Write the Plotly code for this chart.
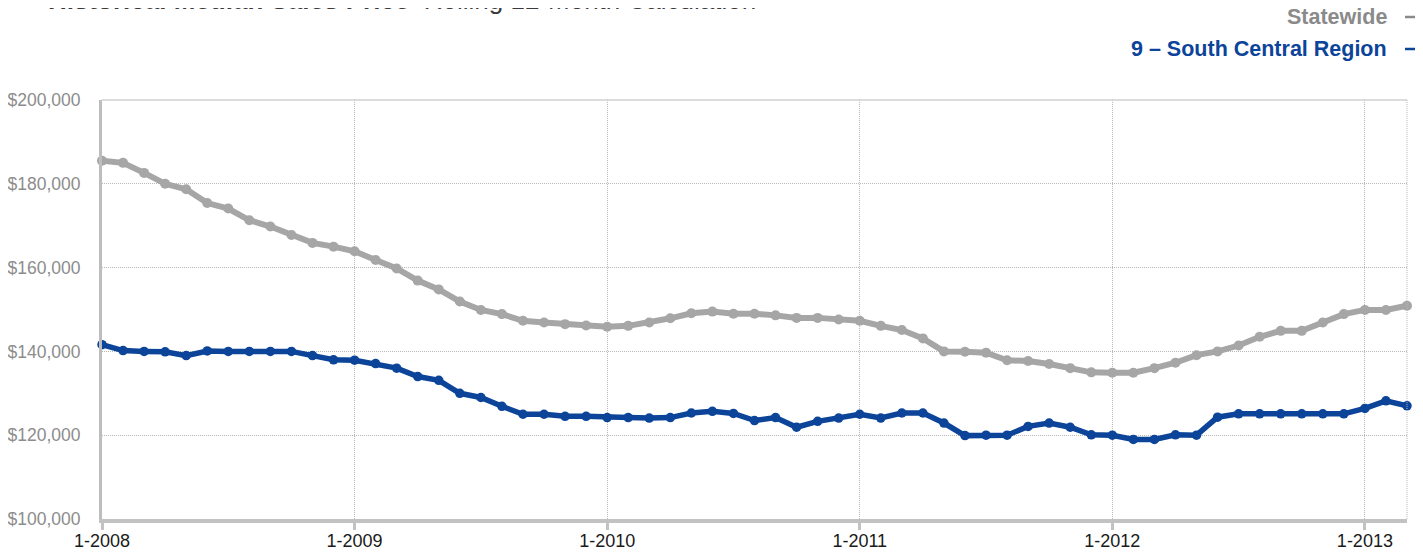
import plotly.graph_objects as go

# ---- data ----
years = [2008, 2009, 2010, 2011, 2012, 2013]
months = [f"{m}-{y}" for y in years for m in range(1, 13)][:63]  # 1-2008 .. 3-2013

statewide = [
    185.5, 185.0, 182.6, 180.0, 178.7, 175.4, 174.1, 171.3, 169.8, 167.8, 165.9, 165.0,
    163.9, 161.8, 159.8, 156.9, 154.8, 151.9, 149.9, 148.9, 147.3, 146.9, 146.5, 146.2,
    145.9, 146.1, 146.9, 147.9, 149.1, 149.5, 149.0, 149.0, 148.6, 148.0, 148.0, 147.6,
    147.3, 146.1, 145.1, 143.1, 140.0, 139.9, 139.7, 137.9, 137.7, 137.0, 136.0, 135.0,
    134.9, 134.9, 136.0, 137.3, 139.1, 140.0, 141.4, 143.5, 144.9, 144.9, 146.9, 148.9,
    149.9, 149.9, 150.9,
]
south_central = [
    141.6, 140.2, 140.0, 139.9, 139.0, 140.1, 140.0, 140.0, 140.0, 140.0, 139.0, 138.0,
    137.9, 137.1, 136.0, 134.0, 133.1, 130.0, 129.0, 126.9, 125.0, 125.0, 124.5, 124.5,
    124.2, 124.2, 124.1, 124.2, 125.3, 125.7, 125.2, 123.5, 124.2, 121.9, 123.3, 124.1,
    125.0, 124.1, 125.3, 125.3, 122.9, 119.9, 120.0, 120.0, 122.1, 122.9, 121.9, 120.1,
    120.0, 119.0, 119.0, 120.1, 120.0, 124.3, 125.1, 125.1, 125.1, 125.1, 125.1, 125.1,
    126.4, 128.2, 127.0,
]
series_names = ["Statewide", "9 \u2013 South Central Region"]
x_tick_labels = ["1-2008", "1-2009", "1-2010", "1-2011", "1-2012", "1-2013"]
y_tick_vals = [100000, 120000, 140000, 160000, 180000, 200000]
y_tick_labels = ["$100,000", "$120,000", "$140,000", "$160,000", "$180,000", "$200,000"]
title_bold = "Historical Median Sales Price"
title_light = "Rolling 12-Month Calculation"

GREY = "#A6A6A6"
BLUE = "#0B4499"
FONT = "Liberation Sans, Arial, sans-serif"

# page has an 8px body margin, so the figure is sized/placed to compensate
W, H = 1415, 544
L, R, T, B = 94, 16, 92, 33
pw, ph = W - L - R, H - T - B

def px_x(p):
    return (p - L) / pw

def px_y(p):
    return 1 - (p - T) / ph

fig = go.Figure()
fig.add_trace(go.Scatter(
    x=months, y=[v * 1000 for v in statewide], name=series_names[0],
    mode="lines+markers", line=dict(color=GREY, width=6),
    marker=dict(color=GREY, size=10), cliponaxis=False, showlegend=False,
))
fig.add_trace(go.Scatter(
    x=months, y=[v * 1000 for v in south_central], name=series_names[1],
    mode="lines+markers", line=dict(color=BLUE, width=5.5),
    marker=dict(color=BLUE, size=9.5), cliponaxis=False, showlegend=False,
))

GRID = "#B8B8B8"
fig.update_layout(
    width=W, height=H,
    margin=dict(l=L, r=R, t=T, b=B, pad=0, autoexpand=False),
    paper_bgcolor="white", plot_bgcolor="white",
    font=dict(family=FONT),
    xaxis=dict(
        type="category", range=[0, len(months) - 1], automargin=False,
        tickmode="array", tickvals=x_tick_labels, ticktext=x_tick_labels,
        showgrid=True, gridcolor=GRID, griddash="1px,1px", gridwidth=1,
        showline=True, linecolor="#C2C2C2", linewidth=4,
        ticks="outside", ticklen=7, tickwidth=3, tickcolor="#C2C2C2",
        ticklabelstandoff=-5,
        tickfont=dict(size=18, color="#1a1a1a", family=FONT),
        zeroline=False,
    ),
    yaxis=dict(
        range=[100000, 200000], automargin=False,
        tickmode="array", tickvals=y_tick_vals, ticktext=y_tick_labels,
        showgrid=True, gridcolor=GRID, griddash="1px,1px", gridwidth=1,
        showline=True, linecolor="#BDBDBD", linewidth=3,
        ticks="", ticklabelstandoff=15,
        tickfont=dict(size=17.5, color="#8C8C8C", family=FONT),
        zeroline=False,
    ),
    shapes=[
        dict(type="line", xref="paper", yref="paper", x0=1, x1=1, y0=0, y1=1,
             line=dict(color=GRID, width=1, dash="1px,1px")),
        dict(type="line", xref="paper", yref="paper", x0=0, x1=1, y0=1, y1=1,
             line=dict(color="#D0D0D0", width=1.5)),
        dict(type="line", xref="paper", yref="paper", x0=px_x(1397), x1=px_x(1411),
             y0=px_y(9), y1=px_y(9), line=dict(color="#8A8A8A", width=2.5)),
        dict(type="line", xref="paper", yref="paper", x0=px_x(1397), x1=px_x(1411),
             y0=px_y(41), y1=px_y(41), line=dict(color=BLUE, width=2.5)),
    ],
    annotations=[
        dict(xref="paper", yref="paper", x=px_x(38), y=px_y(9), xanchor="left", yanchor="bottom",
             text=f"<b>{title_bold}</b>  {title_light}", showarrow=False,
             font=dict(size=26, color="#3a3a3a", family=FONT)),
        dict(xref="paper", yref="paper", x=px_x(1381), y=px_y(9), xanchor="right", yanchor="middle",
             text=f"<b>{series_names[0]}</b>", showarrow=False,
             font=dict(size=21.5, color="#8A8A8A", family=FONT)),
        dict(xref="paper", yref="paper", x=px_x(1381), y=px_y(41), xanchor="right", yanchor="middle",
             text=f"<b>{series_names[1]}</b>", showarrow=False,
             font=dict(size=21.5, color=BLUE, family=FONT)),
    ],
)

fig.write_html("out.html")
